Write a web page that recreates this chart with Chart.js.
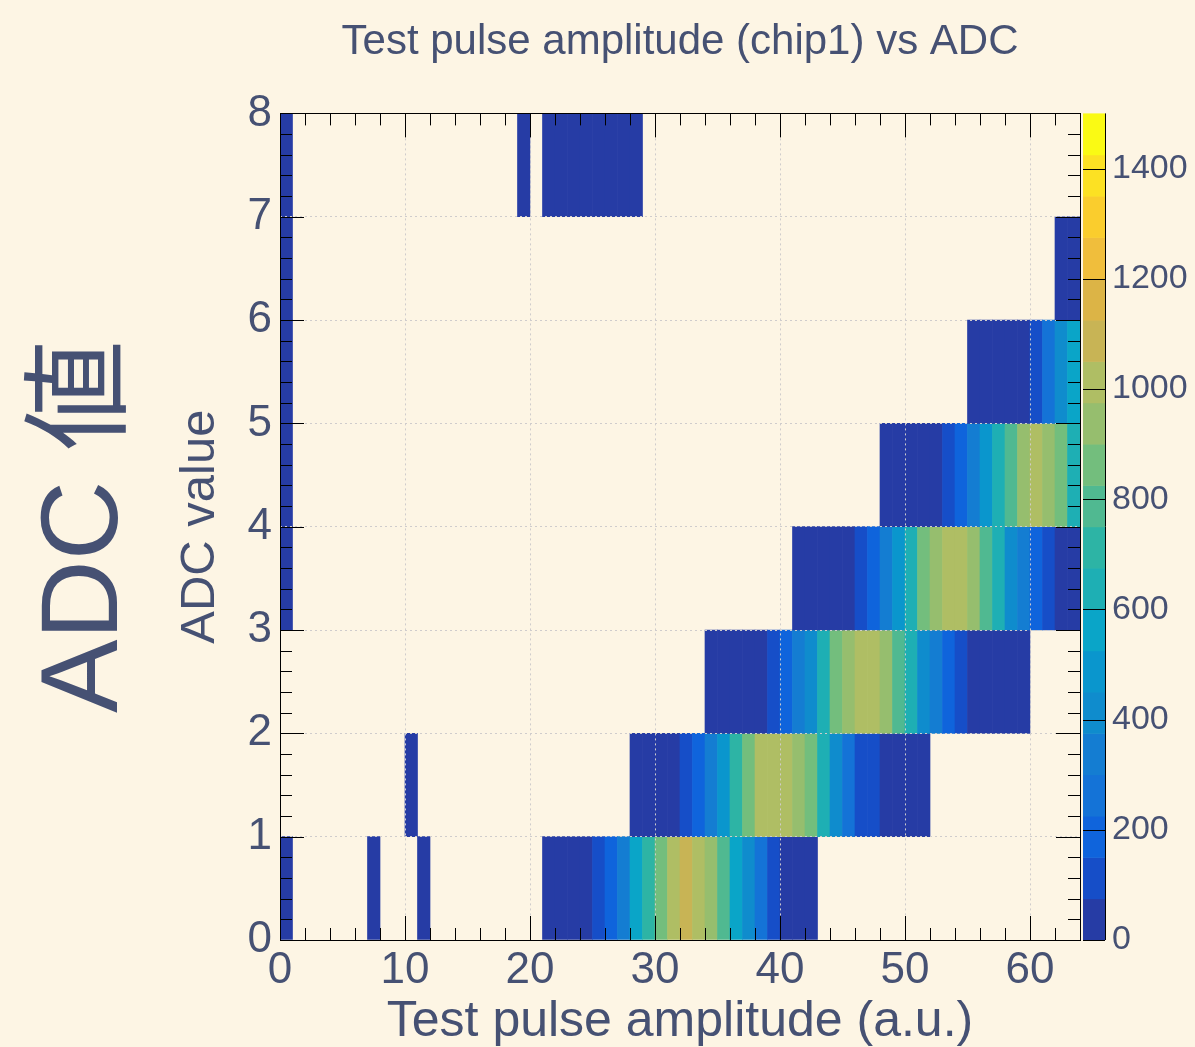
<!DOCTYPE html>
<html>
<head>
<meta charset="utf-8">
<script src="https://cdn.jsdelivr.net/npm/chart.js@4.4.1/dist/chart.umd.min.js"></script>
<style>
  html, body { margin: 0; padding: 0; background: #fdf5e4; }
  #wrap { width: 1195px; height: 1047px; position: relative; }
</style>
</head>
<body>
<div id="wrap"><canvas id="mycanvas"></canvas></div>
<script>
// counts per ADC value (one array per row, 64 test pulse bins each)
var adc0 = [5,0,0,0,0,0,0,3,0,0, 0,4,0,0,0,0,0,0,0,0, 0,8,18,35,60,110,190,340,560,710,
            860,1010,1090,1010,940,790,560,410,260,110, 60,30,10,0,0,0,0,0,0,0, 0,0,0,0,0,0,0,0,0,0, 0,0,0,0];
var adc1 = [0,0,0,0,0,0,0,0,0,0, 4,0,0,0,0,0,0,0,0,0, 0,0,0,0,0,0,0,0,10,25,
            45,65,110,190,300,490,710,860,1000,1020, 1000,940,860,640,410,260,120,95,60,40, 20,8,0,0,0,0,0,0,0,0, 0,0,0,0];
var adc2 = [0,0,0,0,0,0,0,0,0,0, 0,0,0,0,0,0,0,0,0,0, 0,0,0,0,0,0,0,0,0,0,
            0,0,0,0,8,20,35,50,70,110, 190,340,440,640,860,940,1010,1020,940,790, 640,410,300,190,110,70,50,35,20,8, 0,0,0,0];
var adc3 = [3,0,0,0,0,0,0,0,0,0, 0,0,0,0,0,0,0,0,0,0, 0,0,0,0,0,0,0,0,0,0,
            0,0,0,0,0,0,0,0,0,0, 0,8,20,35,50,70,110,190,300,490, 640,860,940,1010,1020,940,790,640,410,340, 190,110,60,30];
var adc4 = [3,0,0,0,0,0,0,0,0,0, 0,0,0,0,0,0,0,0,0,0, 0,0,0,0,0,0,0,0,0,0,
            0,0,0,0,0,0,0,0,0,0, 0,0,0,0,0,0,0,0,8,20, 35,50,70,110,190,340,490,640,790,940, 1010,940,860,640];
var adc5 = [2,0,0,0,0,0,0,0,0,0, 0,0,0,0,0,0,0,0,0,0, 0,0,0,0,0,0,0,0,0,0,
            0,0,0,0,0,0,0,0,0,0, 0,0,0,0,0,0,0,0,0,0, 0,0,0,0,0,10,25,40,55,70, 110,260,410,560];
var adc6 = [2,0,0,0,0,0,0,0,0,0, 0,0,0,0,0,0,0,0,0,0, 0,0,0,0,0,0,0,0,0,0,
            0,0,0,0,0,0,0,0,0,0, 0,0,0,0,0,0,0,0,0,0, 0,0,0,0,0,0,0,0,0,0, 0,0,20,50];
var adc7 = [2,0,0,0,0,0,0,0,0,0, 0,0,0,0,0,0,0,0,0,2, 0,2,3,3,2,3,2,2,1,0,
            0,0,0,0,0,0,0,0,0,0, 0,0,0,0,0,0,0,0,0,0, 0,0,0,0,0,0,0,0,0,0, 0,0,0,0];
var adcRows = [adc0, adc1, adc2, adc3, adc4, adc5, adc6, adc7];

var xTickLabels = [0, 10, 20, 30, 40, 50, 60];
var yTickLabels = [0, 1, 2, 3, 4, 5, 6, 7, 8];
var zTickLabels = [0, 200, 400, 600, 800, 1000, 1200, 1400];
var zMax = 1500;

// bird-like palette, 20 contours
var palette = ['#263ca5','#164ec8','#0f64dc','#1473d7','#147dd2','#0f8ccd','#0a96cd','#0aa5c8','#1eafb4','#2db4a5',
               '#50b991','#73be7d','#96be6e','#afbe64','#c8b455','#dcb446','#f0be3c','#facd2d','#fce123','#fafa14'];
var band = zMax / palette.length;
var textColor = '#465173';
var font = "'Liberation Sans', Arial, 'Noto Sans CJK JP', sans-serif";

function colorFor(v) {
    var k = Math.min(palette.length - 1, Math.floor(v / band));
    return palette[k];
}

var cells = [];
for (var r = 0; r < adcRows.length; r++) {
    for (var i = 0; i < adcRows[r].length; i++) {
        if (adcRows[r][i] > 0) cells.push({ x: i + 0.5, y: [r, r + 1], v: adcRows[r][i] });
    }
}

var bgPlugin = {
    id: 'bg',
    beforeDraw: function(chart) {
        var ctx = chart.ctx;
        ctx.save();
        ctx.fillStyle = '#fdf5e4';
        ctx.fillRect(0, 0, chart.width, chart.height);
        ctx.restore();
    }
};

var framePlugin = {
    id: 'frame',
    afterDraw: function(chart) {
        var ctx = chart.ctx, a = chart.chartArea;
        var xs = chart.scales.x, ys = chart.scales.y, zs = chart.scales.z;
        ctx.save();
        ctx.strokeStyle = '#000';
        ctx.lineWidth = 1;
        ctx.beginPath();
        // inward ticks, x
        for (var v = 0; v <= 64; v += 2) {
            var px = Math.round(xs.getPixelForValue(v)) + 0.5;
            var len = v % 10 === 0 ? 24 : 12;
            ctx.moveTo(px, a.bottom); ctx.lineTo(px, a.bottom - len);
            ctx.moveTo(px, a.top); ctx.lineTo(px, a.top + len);
        }
        // inward ticks, y
        for (var j = 0; j <= 40; j++) {
            var py = Math.round(ys.getPixelForValue(j / 5)) + 0.5;
            var l2 = j % 5 === 0 ? 24 : 12;
            ctx.moveTo(a.left, py); ctx.lineTo(a.left + l2, py);
            ctx.moveTo(a.right, py); ctx.lineTo(a.right - l2, py);
        }
        ctx.stroke();
        ctx.strokeRect(Math.round(a.left) + 0.5, Math.round(a.top) + 0.5,
                       Math.round(a.right - a.left), Math.round(a.bottom - a.top));

        // colour scale
        var x0 = a.right + 3, x1 = a.right + 25;
        for (var k = 0; k < palette.length; k++) {
            var yb = zs.getPixelForValue(k * band), yt = zs.getPixelForValue((k + 1) * band);
            ctx.fillStyle = palette[k];
            ctx.fillRect(x0, yt, x1 - x0, yb - yt + 0.5);
        }
        ctx.beginPath();
        ctx.moveTo(x1 + 0.5, zs.getPixelForValue(zMax)); ctx.lineTo(x1 + 0.5, zs.getPixelForValue(0));
        zTickLabels.forEach(function(t) {
            var py = Math.round(zs.getPixelForValue(t)) + 0.5;
            ctx.moveTo(x1, py); ctx.lineTo(x0, py);
        });
        ctx.stroke();
        ctx.restore();
    }
};

var ctx = document.getElementById('mycanvas');

var chart = new Chart(ctx, {
    type: 'bar',
    data: {
        datasets: [{
            label: 'counts',
            data: cells,
            backgroundColor: function(c) { return c.raw ? colorFor(c.raw.v) : palette[0]; },
            borderWidth: 0,
            barPercentage: 1,
            categoryPercentage: 1
        }]
    },
    options: {
        responsive: true,
        maintainAspectRatio: false,
        animation: false,
        layout: { padding: 0 },
        plugins: {
            legend: { display: false },
            tooltip: { enabled: false },
            title: {
                display: true,
                fullSize: false,
                text: 'Test pulse amplitude (chip1) vs ADC',
                color: textColor,
                font: { family: font, size: 42, weight: 'normal', lineHeight: 1.2 },
                padding: { top: 17, bottom: 46 }
            }
        },
        scales: {
            x: {
                type: 'linear',
                min: 0, max: 64,
                offset: false,
                afterBuildTicks: function(s) { s.ticks = xTickLabels.map(function(v) { return { value: v }; }); },
                afterFit: function(s) { s.height = 107; },
                ticks: { color: textColor, padding: 4, font: { family: font, size: 44 }, maxRotation: 0 },
                grid: { offset: false, drawTicks: false, z: 1, color: '#cfcccc', lineWidth: 1 },
                border: { display: false, dash: [2, 3] },
                title: {
                    display: true, text: 'Test pulse amplitude (a.u.)', color: textColor,
                    font: { family: font, size: 50, lineHeight: 1 }, padding: { top: 0, bottom: 0 }
                }
            },
            y: {
                type: 'linear',
                min: 0, max: 8,
                afterBuildTicks: function(s) { s.ticks = yTickLabels.map(function(v) { return { value: v }; }); },
                afterFit: function(s) { s.width = 110; },
                ticks: { color: textColor, padding: 8, font: { family: font, size: 44 } },
                grid: { drawTicks: false, z: 1, color: '#cfcccc', lineWidth: 1 },
                border: { display: false, dash: [2, 3] },
                title: {
                    display: true, text: 'ADC value', color: textColor,
                    font: { family: font, size: 49, lineHeight: 1 }, padding: { top: 6, bottom: 0 }
                }
            },
            yBig: {
                axis: 'y',
                position: 'left',
                weight: 1,
                min: 0, max: 8,
                afterFit: function(s) { s.width = 170; },
                ticks: { display: false },
                grid: { display: false, drawTicks: false },
                border: { display: false },
                title: {
                    display: true, text: 'ADC 値', color: textColor,
                    font: { family: font, size: 110, lineHeight: 1 }, padding: { top: 32, bottom: 0 }
                }
            },
            z: {
                axis: 'y',
                position: 'right',
                min: 0, max: zMax,
                afterBuildTicks: function(s) { s.ticks = zTickLabels.map(function(v) { return { value: v }; }); },
                afterFit: function(s) { s.width = 115; },
                ticks: {
                    color: textColor, padding: 32, font: { family: font, size: 34 },
                    callback: function(v) { return String(v); }
                },
                grid: { display: false, drawTicks: false },
                border: { display: false }
            }
        }
    },
    plugins: [bgPlugin, framePlugin]
});
</script>
</body>
</html>
